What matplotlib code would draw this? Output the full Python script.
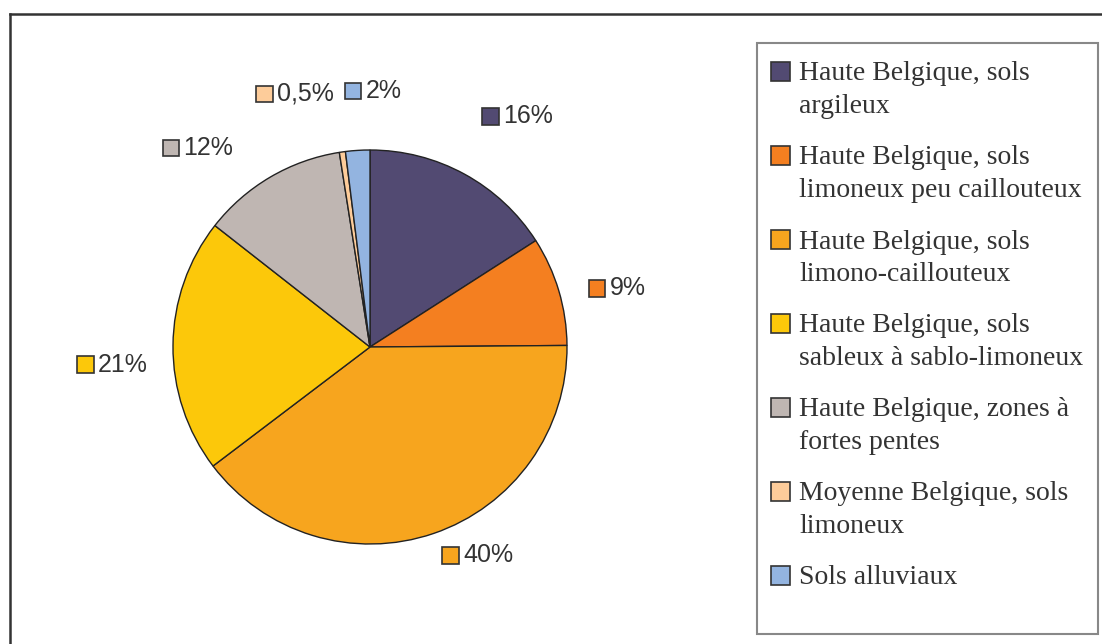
import numpy as np
import matplotlib.pyplot as plt
from matplotlib.patches import Rectangle
from matplotlib.offsetbox import AnnotationBbox, HPacker, DrawingArea, TextArea

categories = [
    "Haute Belgique, sols\nargileux",
    "Haute Belgique, sols\nlimoneux peu caillouteux",
    "Haute Belgique, sols\nlimono-caillouteux",
    "Haute Belgique, sols\nsableux à sablo-limoneux",
    "Haute Belgique, zones à\nfortes pentes",
    "Moyenne Belgique, sols\nlimoneux",
    "Sols alluviaux",
]
values = [16, 9, 40, 21, 12, 0.5, 2]
pct_labels = ["16%", "9%", "40%", "21%", "12%", "0,5%", "2%"]
colors = ["#524a72", "#f47f20", "#f7a51e", "#fcc80a", "#bfb6b2", "#fdcc9a", "#93b4e0"]

# label placement (radius factor, angle nudge in degrees)
lab_dist = [1.39, 1.29, 1.19, 1.31, 1.335, 1.34, 1.30]
lab_nudge = [-3.9, -3.2, 8.5, 4.4, 10.4, 8.4, -4.3]

W, H = 1102, 644
fig = plt.figure(figsize=(W / 100, H / 100), dpi=100)

# outer frame (only top and left visible)
fig.add_artist(plt.Line2D([10 / W, 10 / W], [0, 1 - 14 / H], color="#333333", lw=1.8))
fig.add_artist(plt.Line2D([10 / W, 1], [1 - 14 / H, 1 - 14 / H], color="#333333", lw=1.8))

side = 591
cx, cy = 370, 347
ax = fig.add_axes([(cx - side / 2) / W, (H - cy - side / 2) / H, side / W, side / H])
wedges, _ = ax.pie(values, colors=colors, startangle=90, counterclock=False,
                   wedgeprops=dict(edgecolor="#222222", linewidth=1.0))
ax.set_xlim(-1.5, 1.5)
ax.set_ylim(-1.5, 1.5)
ax.set_aspect("equal")
ax.axis("off")

for w, lab, c, d, n in zip(wedges, pct_labels, colors, lab_dist, lab_nudge):
    ang = np.deg2rad((w.theta1 + w.theta2) / 2 + n)
    x, y = d * np.cos(ang), d * np.sin(ang)
    da = DrawingArea(12, 12, 0, 0)
    da.add_artist(Rectangle((0, 0), 12, 12, facecolor=c, edgecolor="#333333", lw=1.2))
    ta = TextArea(lab, textprops=dict(fontsize=18, color="#333333", family="Liberation Sans"))
    box = HPacker(children=[da, ta], align="center", pad=0, sep=3)
    ab = AnnotationBbox(box, (x, y), frameon=False, box_alignment=(0.5, 0.5), annotation_clip=False)
    ax.add_artist(ab)

# legend: frame, then one square + text per category
fig.add_artist(Rectangle((757 / W, 1 - 634 / H), (1098 - 757) / W, (634 - 43) / H,
                         transform=fig.transFigure, facecolor="none", edgecolor="#888888", lw=1.5))
line_h = 33
y = 71
for cat, c in zip(categories, colors):
    fig.add_artist(Rectangle((771 / W, 1 - (y + 9.5) / H), 19 / W, 19 / H, transform=fig.transFigure,
                             facecolor=c, edgecolor="#333333", lw=1.2))
    fig.text(799 / W, 1 - (y - 9.5) / H, cat, ha="left", va="top", fontsize=20,
             family="Liberation Serif", color="#333333", linespacing=1.41)
    y += cat.count("\n") * line_h + line_h + 18

fig.savefig("out.png", dpi=100)
